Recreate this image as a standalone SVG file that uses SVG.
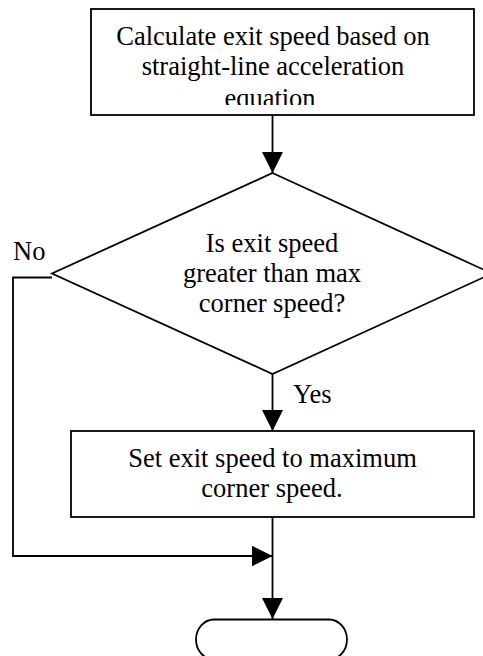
<svg xmlns="http://www.w3.org/2000/svg" width="483" height="656" viewBox="0 0 483 656">
  <style>
    .shape { fill: #ffffff; stroke: #000000; stroke-width: 1.8; }
    .conn { fill: none; stroke: #000000; stroke-width: 1.8; }
    .t { font-family: "Liberation Serif", "Times New Roman", serif; font-size: 26.5px; fill: #000000; }
    .c { text-anchor: middle; }
  </style>
  <defs>
    <marker id="arrow" markerUnits="userSpaceOnUse" markerWidth="21" markerHeight="21" viewBox="0 0 21 21" refX="21" refY="10.5" orient="auto">
      <path d="M0,0 L21,10.5 L0,21 z" fill="#000000"/>
    </marker>
    <clipPath id="clipTop">
      <rect x="91" y="9" width="383" height="96"/>
    </clipPath>
  </defs>
  <rect width="483" height="656" fill="#ffffff"/>

  <g id="connectors">
    <path class="conn" d="M272.5,115 V173" marker-end="url(#arrow)"/>
    <path class="conn" d="M52,277.5 H13 V556 H272.5" marker-end="url(#arrow)"/>
    <path class="conn" d="M272.5,374 V431" marker-end="url(#arrow)"/>
    <path class="conn" d="M272.5,517 V619" marker-end="url(#arrow)"/>
    <text class="t" x="13" y="260">No</text>
    <text class="t" x="293" y="403">Yes</text>
  </g>

  <g id="calc">
    <rect class="shape" x="91" y="9" width="383" height="106"/>
    <g clip-path="url(#clipTop)">
      <text class="t c" x="273" y="45">Calculate exit speed based on</text>
      <text class="t c" x="273" y="75">straight-line acceleration</text>
      <text class="t c" x="270" y="107">equation</text>
    </g>
  </g>

  <g id="decision">
    <polygon class="shape" points="272.5,173 492,273.5 272.5,374 52,273.5"/>
    <text class="t c" x="272" y="252">Is exit speed</text>
    <text class="t c" x="272" y="282">greater than max</text>
    <text class="t c" x="272" y="312">corner speed?</text>
  </g>

  <g id="setspeed">
    <rect class="shape" x="71" y="431" width="403" height="86"/>
    <text class="t c" x="272.5" y="467">Set exit speed to maximum</text>
    <text class="t c" x="272" y="497">corner speed.</text>
  </g>

  <g id="end">
    <rect class="shape" x="196" y="619.5" width="151" height="40" rx="18" ry="20"/>
  </g>
</svg>
